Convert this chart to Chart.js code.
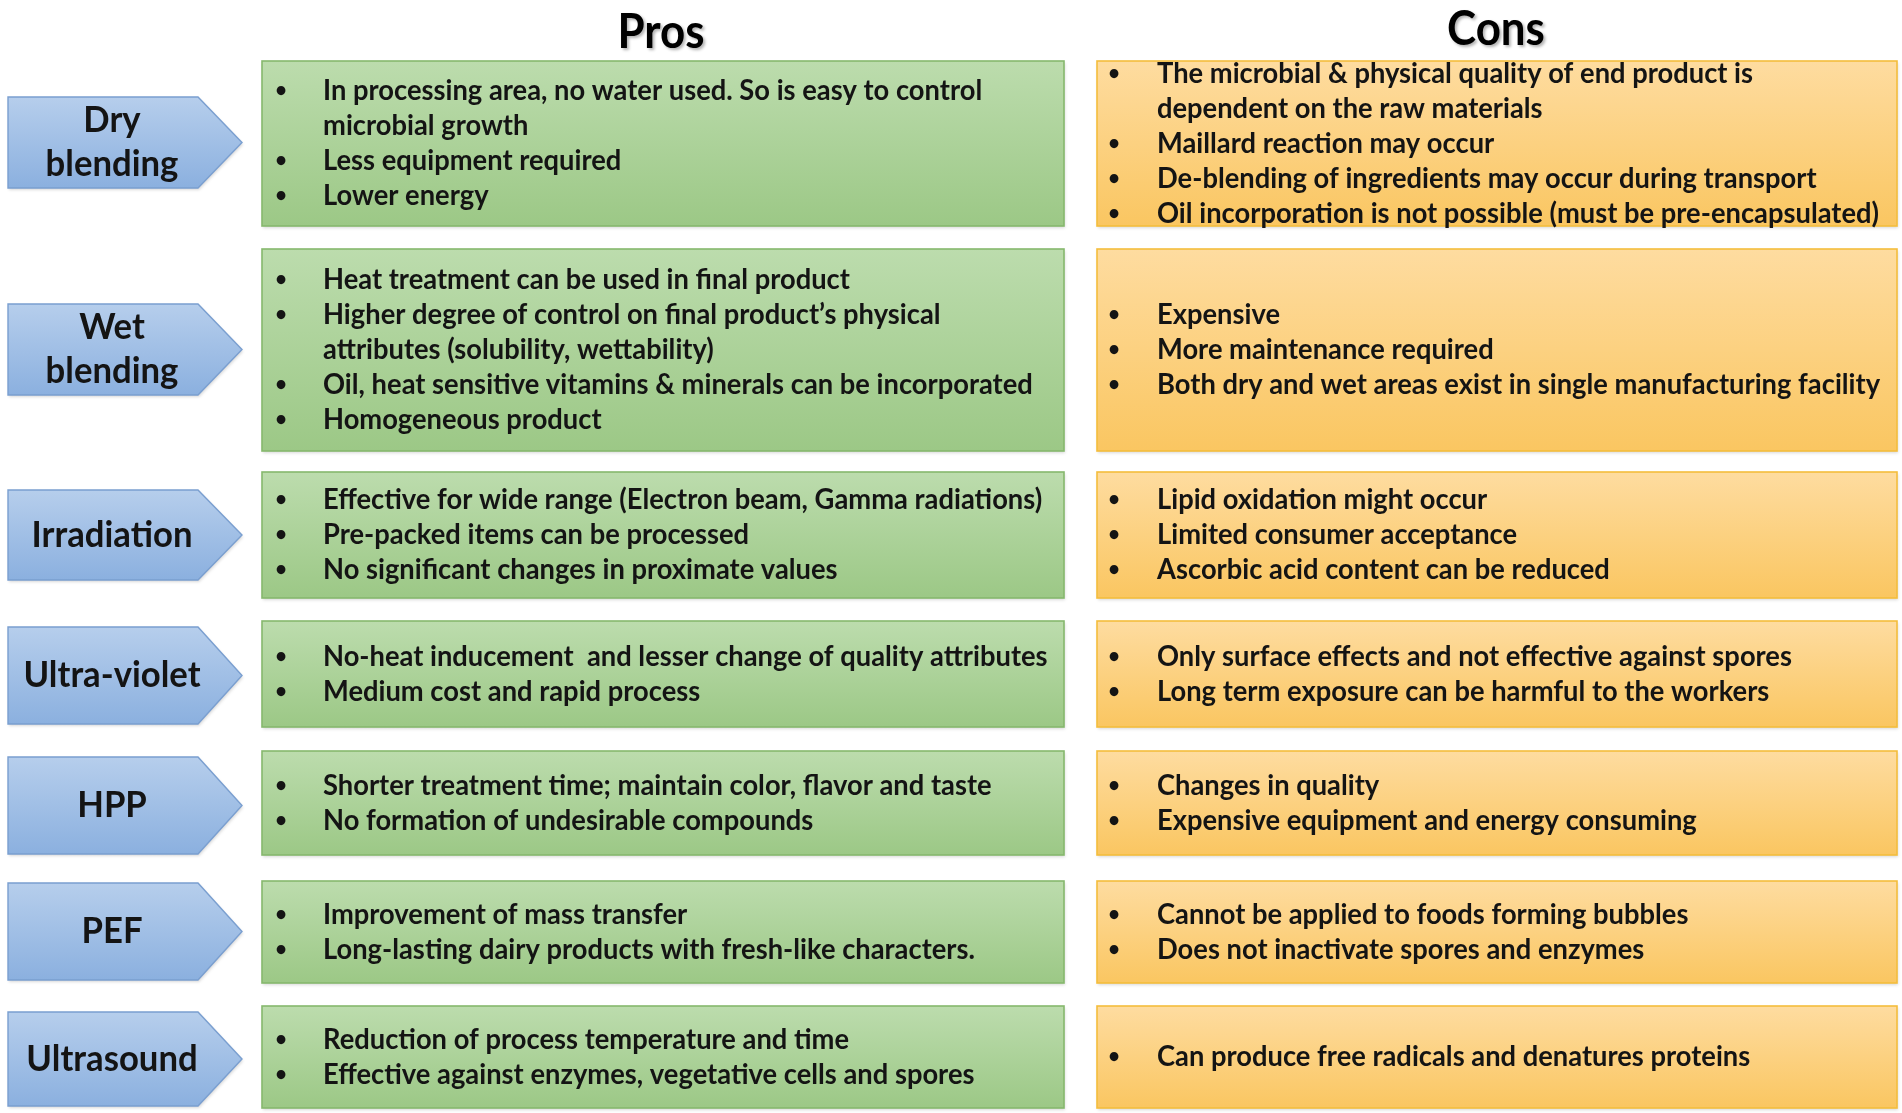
<!DOCTYPE html>
<html>
<head>
<meta charset="utf-8">
<script src="https://cdn.jsdelivr.net/npm/chart.js@4.4.1/dist/chart.umd.min.js"></script>
<style>
  html, body { margin: 0; padding: 0; background: #ffffff; }
  #wrap { width: 1902px; height: 1113px; position: relative; }
</style>
</head>
<body>
<div id="wrap"><canvas id="c"></canvas></div>
<script>
// ---------------- DATA ----------------
const categories = ['Dry blending', 'Wet blending', 'Irradiation', 'Ultra-violet', 'HPP', 'PEF', 'Ultrasound'];
const categoryLines = [['Dry', 'blending'], ['Wet', 'blending'], ['Irradiation'], ['Ultra-violet'], ['HPP'], ['PEF'], ['Ultrasound']];
const columnTitles = ['Pros', 'Cons'];

const pros = [
  [['In processing area, no water used. So is easy to control', 'microbial growth'], ['Less equipment required'], ['Lower energy']],
  [['Heat treatment can be used in final product'], ['Higher degree of control on final product\u2019s physical', 'attributes (solubility, wettability)'], ['Oil, heat sensitive vitamins & minerals can be incorporated'], ['Homogeneous product']],
  [['Effective for wide range (Electron beam, Gamma radiations)'], ['Pre-packed items can be processed'], ['No significant changes in proximate values']],
  [['No-heat inducement  and lesser change of quality attributes'], ['Medium cost and rapid process']],
  [['Shorter treatment time; maintain color, flavor and taste'], ['No formation of undesirable compounds']],
  [['Improvement of mass transfer'], ['Long-lasting dairy products with fresh-like characters.']],
  [['Reduction of process temperature and time'], ['Effective against enzymes, vegetative cells and spores']]
];

const cons = [
  [['The microbial & physical quality of end product is', 'dependent on the raw materials'], ['Maillard reaction may occur'], ['De-blending of ingredients may occur during transport'], ['Oil incorporation is not possible (must be pre-encapsulated)']],
  [['Expensive'], ['More maintenance required'], ['Both dry and wet areas exist in single manufacturing facility']],
  [['Lipid oxidation might occur'], ['Limited consumer acceptance'], ['Ascorbic acid content can be reduced']],
  [['Only surface effects and not effective against spores'], ['Long term exposure can be harmful to the workers']],
  [['Changes in quality'], ['Expensive equipment and energy consuming']],
  [['Cannot be applied to foods forming bubbles'], ['Does not inactivate spores and enzymes']],
  [['Can produce free radicals and denatures proteins']]
];

// ---------------- LAYOUT (positions / sizes, in axis units) ----------------
const layout = {
  rowTop:      [61, 249, 472, 621, 751, 881, 1006],
  rowBottom:   [226, 451, 598, 727, 855, 983, 1108],
  arrowTop:    [97, 304, 490, 627, 757, 883, 1012],
  arrowBottom: [188, 395, 580, 724, 854, 980, 1106],
  arrowLeft: 8, arrowBody: 198, arrowTip: 242, labelX: 112, labelLineH: 44,
  prosLeft: 262, prosRight: 1064, consLeft: 1097, consRight: 1897,
  prosBullet: 281, prosText: 323, consBullet: 1114, consText: 1157,
  lineH: 35,
  titleX: [661, 1496], titleBaseline: [48, 45],
  bodyRefWidth: 722, labelRefWidth: 161, titleRefWidth: 87
};

const styles = {
  bodyFont: 'bold 28px Lato',
  bulletFont: 'bold 20px Lato',
  labelFont: 'bold 37px Lato',
  titleFont: 'bold 47px Lato',
  text: '#141414',
  green: ['#bcdcad', '#9cc886', '#86b86d'],
  orange: ['#fedca0', '#fac661', '#f4bd3c'],
  blue: ['#b6ceec', '#8bb0df', '#7a9fd0']
};

// ---------------- DRAWING ----------------
function drawScaled(ctx, str, x, y, font, k, align, baseline) {
  ctx.save();
  ctx.font = font;
  ctx.textAlign = align;
  ctx.textBaseline = baseline;
  ctx.translate(x, y);
  ctx.scale(k, 1);
  ctx.fillText(str, 0, 0);
  ctx.restore();
}

function fitFactor(ctx, font, str, target) {
  ctx.save();
  ctx.font = font;
  const w = ctx.measureText(str).width;
  ctx.restore();
  return target / w;
}

const tablePlugin = {
  id: 'prosConsTable',
  beforeDraw(chart) {
    const ctx = chart.ctx;
    ctx.save();
    ctx.fillStyle = '#ffffff';
    ctx.fillRect(0, 0, chart.width, chart.height);
    ctx.restore();
  },
  afterDraw(chart) {
    const ctx = chart.ctx;
    const xs = chart.scales.x, ys = chart.scales.y;
    const X = v => xs.getPixelForValue(v);
    const Y = v => ys.getPixelForValue(v);
    const unitX = X(1) - X(0);

    const kBody = fitFactor(ctx, styles.bodyFont, cons[0][3][0], layout.bodyRefWidth * unitX);
    const kLabel = fitFactor(ctx, styles.labelFont, categoryLines[2][0], layout.labelRefWidth * unitX);
    const kTitle = fitFactor(ctx, styles.titleFont, columnTitles[0], layout.titleRefWidth * unitX);

    // column titles
    ctx.save();
    ctx.fillStyle = '#000000';
    ctx.shadowColor = 'rgba(0,0,0,0.3)';
    ctx.shadowOffsetX = 2; ctx.shadowOffsetY = 2; ctx.shadowBlur = 3;
    columnTitles.forEach((t, i) => {
      drawScaled(ctx, t, X(layout.titleX[i]), Y(layout.titleBaseline[i]), styles.titleFont, kTitle, 'center', 'alphabetic');
    });
    ctx.restore();

    function box(x0, x1, y0, y1, colors) {
      const px0 = X(x0), px1 = X(x1), py0 = Y(y0), py1 = Y(y1);
      const g = ctx.createLinearGradient(0, py0, 0, py1);
      g.addColorStop(0, colors[0]);
      g.addColorStop(1, colors[1]);
      ctx.save();
      ctx.shadowColor = 'rgba(0,0,0,0.15)';
      ctx.shadowOffsetX = 1; ctx.shadowOffsetY = 2; ctx.shadowBlur = 3;
      ctx.fillStyle = g;
      ctx.fillRect(px0, py0, px1 - px0, py1 - py0);
      ctx.restore();
      ctx.save();
      ctx.strokeStyle = colors[2];
      ctx.lineWidth = 1.6;
      ctx.strokeRect(px0, py0, px1 - px0, py1 - py0);
      ctx.restore();
    }

    function arrow(y0, y1, colors) {
      const py0 = Y(y0), py1 = Y(y1), pm = (py0 + py1) / 2;
      const g = ctx.createLinearGradient(0, py0, 0, py1);
      g.addColorStop(0, colors[0]);
      g.addColorStop(1, colors[1]);
      ctx.save();
      ctx.beginPath();
      ctx.moveTo(X(layout.arrowLeft), py0);
      ctx.lineTo(X(layout.arrowBody), py0);
      ctx.lineTo(X(layout.arrowTip), pm);
      ctx.lineTo(X(layout.arrowBody), py1);
      ctx.lineTo(X(layout.arrowLeft), py1);
      ctx.closePath();
      ctx.shadowColor = 'rgba(0,0,0,0.15)';
      ctx.shadowOffsetX = 1; ctx.shadowOffsetY = 2; ctx.shadowBlur = 3;
      ctx.fillStyle = g;
      ctx.fill();
      ctx.shadowColor = 'transparent';
      ctx.strokeStyle = colors[2];
      ctx.lineWidth = 1.4;
      ctx.stroke();
      ctx.restore();
    }

    function bullets(items, y0, y1, bx, tx) {
      const lines = [];
      items.forEach(item => item.forEach((ln, j) => lines.push({ text: ln, bullet: j === 0 })));
      const mid = (y0 + y1) / 2;
      const start = mid - (lines.length - 1) * layout.lineH / 2;
      ctx.save();
      ctx.fillStyle = styles.text;
      lines.forEach((l, i) => {
        const yy = Y(start + i * layout.lineH);
        if (l.bullet) drawScaled(ctx, '\u2022', X(bx), yy, styles.bulletFont, 1, 'center', 'middle');
        drawScaled(ctx, l.text, X(tx), yy, styles.bodyFont, kBody, 'left', 'middle');
      });
      ctx.restore();
    }

    categories.forEach((cat, i) => {
      const t = layout.rowTop[i], b = layout.rowBottom[i];
      arrow(layout.arrowTop[i], layout.arrowBottom[i], styles.blue);
      box(layout.prosLeft, layout.prosRight, t, b, styles.green);
      box(layout.consLeft, layout.consRight, t, b, styles.orange);

      // category label
      const lab = categoryLines[i];
      const am = (layout.arrowTop[i] + layout.arrowBottom[i]) / 2;
      const ls = am - (lab.length - 1) * layout.labelLineH / 2;
      ctx.save();
      ctx.fillStyle = styles.text;
      lab.forEach((ln, j) => drawScaled(ctx, ln, X(layout.labelX), Y(ls + j * layout.labelLineH), styles.labelFont, kLabel, 'center', 'middle'));
      ctx.restore();

      bullets(pros[i], t, b, layout.prosBullet, layout.prosText);
      bullets(cons[i], t, b, layout.consBullet, layout.consText);
    });
  }
};

function build() {
  new Chart(document.getElementById('c'), {
    type: 'scatter',
    data: { labels: categories, datasets: [{ label: 'rows', data: [], showLine: false }] },
    options: {
      responsive: true,
      maintainAspectRatio: false,
      animation: false,
      layout: { padding: 0 },
      plugins: { legend: { display: false }, tooltip: { enabled: false }, title: { display: false } },
      scales: {
        x: { type: 'linear', min: 0, max: 1902, display: false },
        y: { type: 'linear', min: 0, max: 1113, reverse: true, display: false }
      }
    },
    plugins: [tablePlugin]
  });
}

if (document.fonts && document.fonts.load) {
  Promise.all([
    document.fonts.load(styles.bodyFont),
    document.fonts.load(styles.labelFont),
    document.fonts.load(styles.titleFont)
  ]).then(build, build);
} else {
  build();
}
</script>
</body>
</html>
